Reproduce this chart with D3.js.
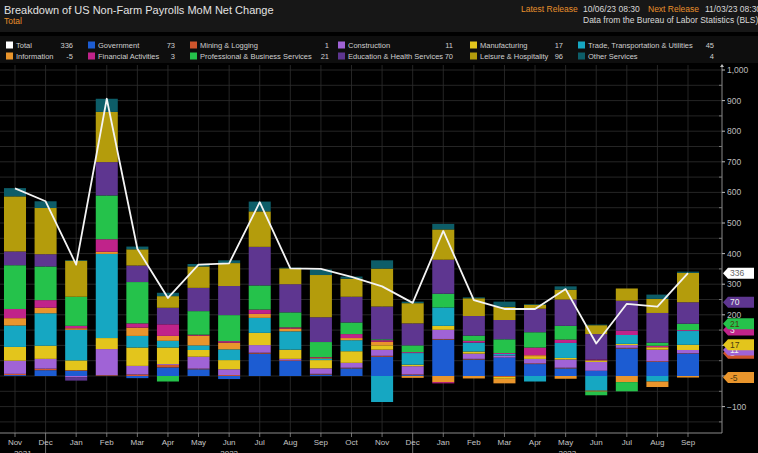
<!DOCTYPE html>
<html>
<head>
<meta charset="utf-8">
<script src="https://cdn.jsdelivr.net/npm/d3@7"></script>
<style>
  body { margin: 0; background: #000; overflow: hidden; }
  svg { display: block; font-family: "Liberation Sans", Arial, sans-serif; }
</style>
</head>
<body>
<svg id="chart" width="758" height="453"></svg>
<script>
// 月（2021年11月〜2023年9月）
const months = ["Nov","Dec","Jan","Feb","Mar","Apr","May","Jun","Jul","Aug","Sep","Oct",
                "Nov","Dec","Jan","Feb","Mar","Apr","May","Jun","Jul","Aug","Sep"];
const years = ["2021", "2022", "2023"];

// 合計（千人）
const total = [613, 571, 364, 906, 416, 255, 364, 368, 568, 352, 350, 324,
               293, 239, 474, 248, 219, 219, 284, 106, 236, 227, 336];

// 部門別
const government    = [3, 19, 17, 1, -7, 28, 22, -10, 73, 49, 5, 25, 63, 3, 119, 54, 60, 39, 25, 17, 90, 46, 73];
const mining        = [4, 5, 2, 2, 5, 8, 2, 3, 3, 2, 2, 2, 3, 2, 2, 2, -3, 2, 2, 0, 2, 2, 1];
const construction  = [43, 32, -5, 85, 28, 3, 39, 19, 25, 5, 18, 16, 20, 27, 30, 17, 7, 15, 27, 29, 9, 38, 11];
const manufacturing = [45, 43, 32, 36, 60, 54, 22, 30, 40, 30, 27, 38, 14, 5, 13, 7, -6, 6, 5, 5, 4, 8, 17];
const trade         = [70, 106, 100, 275, 38, 22, 15, 35, 49, 60, 5, 36, -85, 38, 60, 29, 5, -18, 49, -48, 29, -18, 45];
const information   = [24, 18, 5, 7, 27, 16, 32, 22, 13, 9, 3, 7, 12, -6, -20, -8, -15, 6, -9, -3, -20, -18, -5];
const financial     = [30, 25, 8, 41, 14, 38, 3, 5, 14, 4, 2, 13, 5, 3, -4, 6, 3, 25, 11, 3, 14, 5, 3];
const professional  = [143, 110, 95, 143, 135, -18, 77, 85, 79, 49, 49, 38, 3, 22, 45, 17, 45, 50, 45, -12, -30, 10, 21];
const education     = [45, 40, -10, 109, 54, 54, 76, 95, 126, 92, 81, 84, 107, 72, 111, 64, 63, 77, 86, 83, 98, 97, 70];
const leisure       = [180, 151, 118, 164, 53, 38, 70, 75, 116, 52, 138, 59, 124, 66, 99, 58, 43, 13, 32, 29, 40, 46, 96];
const other         = [27, 22, 2, 43, 9, 11, 8, 9, 32, 2, 18, 7, 27, 5, 18, 3, 17, 2, 11, 2, 0, 14, 4];

const seriesNames = ["Government", "Mining & Logging", "Construction", "Manufacturing",
  "Trade, Transportation & Utilities", "Information", "Financial Activities",
  "Professional & Business Services", "Education & Health Services",
  "Leisure & Hospitality", "Other Services"];
const seriesValues = [government, mining, construction, manufacturing, trade, information,
  financial, professional, education, leisure, other];

const colors = {
  "Government": "#1c5cd2",
  "Mining & Logging": "#d0552c",
  "Construction": "#a063d6",
  "Manufacturing": "#e3c51c",
  "Trade, Transportation & Utilities": "#16a7c2",
  "Information": "#e9952c",
  "Financial Activities": "#c0238a",
  "Professional & Business Services": "#25c24b",
  "Education & Health Services": "#5e3690",
  "Leisure & Hospitality": "#b49c0c",
  "Other Services": "#0d5d68"
};

const svg = d3.select("#chart");
const W = 758, H = 453;
const plotLeft = 0, plotRight = 722, plotTop = 65, plotBottom = 433;

svg.append("rect").attr("width", W).attr("height", H).attr("fill", "#000");

// ヘッダー
svg.append("rect").attr("x", 0).attr("y", 0).attr("width", W).attr("height", 32).attr("fill", "#171717");
svg.append("rect").attr("x", 0).attr("y", 36).attr("width", W).attr("height", 27).attr("fill", "#0e0e0e");

svg.append("text").attr("x", 4).attr("y", 14).attr("font-size", "11px").attr("fill", "#e2e2e2")
  .text("Breakdown of US Non-Farm Payrolls MoM Net Change");
svg.append("text").attr("x", 4).attr("y", 24).attr("font-size", "8.5px").attr("fill", "#e8902c")
  .text("Total");

const rel = svg.append("text").attr("y", 12).attr("font-size", "8.5px");
rel.append("tspan").attr("x", 521).attr("fill", "#e8902c").text("Latest Release");
rel.append("tspan").attr("x", 583).attr("fill", "#d8d8d8").text("10/06/23 08:30");
rel.append("tspan").attr("x", 648).attr("fill", "#e8902c").text("Next Release");
rel.append("tspan").attr("x", 705).attr("fill", "#d8d8d8").text("11/03/23 08:30");
svg.append("text").attr("x", 583).attr("y", 23).attr("font-size", "8.5px").attr("fill", "#d8d8d8")
  .text("Data from the Bureau of Labor Statistics (BLS)");

// 凡例
const last = months.length - 1;
const legendItems = [{ name: "Total", color: "#fff", value: total[last] }]
  .concat(seriesNames.map((n, i) => ({ name: n, color: colors[n], value: seriesValues[i][last] })));
const colSwatch = [6, 88, 190, 338, 470, 578];
const colValue = [73, 175, 329, 453, 563, 714];

const leg = svg.selectAll(".leg")
  .data(legendItems)
  .enter()
  .append("g")
  .attr("transform", (d, i) => `translate(0, ${i < 6 ? 45 : 56})`);

leg.append("rect")
  .attr("x", (d, i) => colSwatch[i % 6])
  .attr("y", -3.5)
  .attr("width", 7)
  .attr("height", 7)
  .attr("fill", d => d.color);

leg.append("text")
  .attr("x", (d, i) => colSwatch[i % 6] + 10)
  .attr("y", 3)
  .attr("font-size", "7.5px")
  .attr("fill", "#cfcfcf")
  .text(d => d.name);

leg.append("text")
  .attr("x", (d, i) => colValue[i % 6])
  .attr("y", 3)
  .attr("font-size", "7.5px")
  .attr("fill", "#cfcfcf")
  .attr("text-anchor", "end")
  .text(d => d.value);

// スケール
const x = d3.scalePoint().domain(d3.range(months.length)).range([15, 688]);
const y = d3.scaleLinear().domain([0, 1000]).range([376, 70]);
const barW = x.step() * 0.72;

// グリッド
const hTicks = d3.range(-150, 1001, 50);
svg.append("g").selectAll("line")
  .data(hTicks)
  .enter()
  .append("line")
  .attr("x1", plotLeft).attr("x2", plotRight)
  .attr("y1", d => y(d)).attr("y2", d => y(d))
  .attr("stroke", "#2e2e2e").attr("stroke-width", 0.8);

svg.append("g").selectAll("line")
  .data(d3.range(months.length))
  .enter()
  .append("line")
  .attr("x1", d => x(d)).attr("x2", d => x(d))
  .attr("y1", plotTop).attr("y2", plotBottom)
  .attr("stroke", "#2e2e2e").attr("stroke-width", 0.8);

// 目盛り（Dec は年の境界で長め）
svg.append("g").selectAll("line")
  .data(d3.range(months.length))
  .enter()
  .append("line")
  .attr("x1", d => x(d)).attr("x2", d => x(d))
  .attr("y1", plotBottom).attr("y2", d => months[d] === "Dec" ? H : plotBottom + 4)
  .attr("stroke", "#8a8a8a").attr("stroke-width", 0.8);

// 積み上げ棒
const table = months.map((m, i) => {
  const row = { i: i };
  seriesNames.forEach((n, k) => row[n] = seriesValues[k][i]);
  return row;
});
const stack = d3.stack().keys(seriesNames).offset(d3.stackOffsetDiverging)(table);

svg.append("g").selectAll("g")
  .data(stack)
  .enter()
  .append("g")
  .attr("fill", d => colors[d.key])
  .selectAll("rect")
  .data(d => d)
  .enter()
  .append("rect")
  .attr("x", d => x(d.data.i) - barW / 2)
  .attr("width", barW)
  .attr("y", d => y(d[1]))
  .attr("height", d => y(d[0]) - y(d[1]));

// 合計ライン
svg.append("path")
  .datum(total)
  .attr("fill", "none")
  .attr("stroke", "#f4f4f4")
  .attr("stroke-width", 1.8)
  .attr("stroke-linejoin", "round")
  .attr("d", d3.line().x((d, i) => x(i)).y(d => y(d)));

// X軸
svg.append("line")
  .attr("x1", plotLeft).attr("x2", plotRight)
  .attr("y1", plotBottom).attr("y2", plotBottom)
  .attr("stroke", "#9a9a9a").attr("stroke-width", 0.9);

svg.append("g").selectAll("text")
  .data(months)
  .enter()
  .append("text")
  .attr("x", (d, i) => x(i))
  .attr("y", 445)
  .attr("text-anchor", "middle")
  .attr("font-size", "8px")
  .attr("fill", "#c4c4c4")
  .text(d => d);

// 年ラベル（Dec の目盛りを境界にする）
const bounds = [plotLeft].concat(d3.range(months.length).filter(i => months[i] === "Dec").map(i => x(i)), [plotRight]);
svg.append("g").selectAll("text")
  .data(years)
  .enter()
  .append("text")
  .attr("x", (d, i) => (bounds[i] + bounds[i + 1]) / 2)
  .attr("y", 456)
  .attr("text-anchor", "middle")
  .attr("font-size", "8px")
  .attr("fill", "#c4c4c4")
  .text(d => d);

// 右Y軸
svg.append("line")
  .attr("x1", plotRight).attr("x2", plotRight)
  .attr("y1", plotTop).attr("y2", plotBottom)
  .attr("stroke", "#9a9a9a").attr("stroke-width", 0.9);
svg.append("path")
  .attr("d", `M${plotRight - 2},${plotTop + 2} L${plotRight},${plotTop - 1} L${plotRight + 2},${plotTop + 2} Z`)
  .attr("fill", "#bbb");

const majorTicks = d3.range(-100, 1001, 100);
svg.append("g").selectAll("line")
  .data(majorTicks)
  .enter()
  .append("line")
  .attr("x1", plotRight).attr("x2", plotRight + 3)
  .attr("y1", d => y(d)).attr("y2", d => y(d))
  .attr("stroke", "#bbb");
svg.append("g").selectAll("line")
  .data(hTicks.filter(d => d % 100 !== 0))
  .enter()
  .append("line")
  .attr("x1", plotRight - 3).attr("x2", plotRight)
  .attr("y1", d => y(d)).attr("y2", d => y(d))
  .attr("stroke", "#777");

svg.append("g").selectAll("text")
  .data(majorTicks)
  .enter()
  .append("text")
  .attr("x", plotRight + 5)
  .attr("y", d => y(d) + 3)
  .attr("font-size", "8.5px")
  .attr("fill", "#bdbdbd")
  .text(d => d3.format(",")(d));

// 右端の値タグ（最終月）
const tagKeys = ["Information", "Mining & Logging", "Construction", "Manufacturing",
  "Financial Activities", "Professional & Business Services", "Education & Health Services"];
const lastStack = {};
stack.forEach(s => lastStack[s.key] = s[last]);
const tags = tagKeys.map(k => {
  const v = seriesValues[seriesNames.indexOf(k)][last];
  const s = lastStack[k];
  return { value: v, pos: v >= 0 ? s[1] : s[0], fill: colors[k] };
});
tags.push({ value: total[last], pos: total[last], fill: "#ffffff" });
const darkText = ["#e3c51c", "#25c24b", "#e9952c", "#ffffff"];

const tag = svg.append("g").selectAll("g")
  .data(tags)
  .enter()
  .append("g")
  .attr("transform", d => `translate(${plotRight + 1}, ${y(d.pos)})`);

tag.append("path")
  .attr("d", "M0,0 L5,-5.5 L31,-5.5 L31,5.5 L5,5.5 Z")
  .attr("fill", d => d.fill);

tag.append("text")
  .attr("x", 7)
  .attr("y", 3)
  .attr("font-size", "8.5px")
  .attr("fill", d => d.fill === "#ffffff" ? "#666" : (darkText.includes(d.fill) ? "#4a3a10" : "#f0f0f0"))
  .text(d => d.value);
</script>
</body>
</html>
